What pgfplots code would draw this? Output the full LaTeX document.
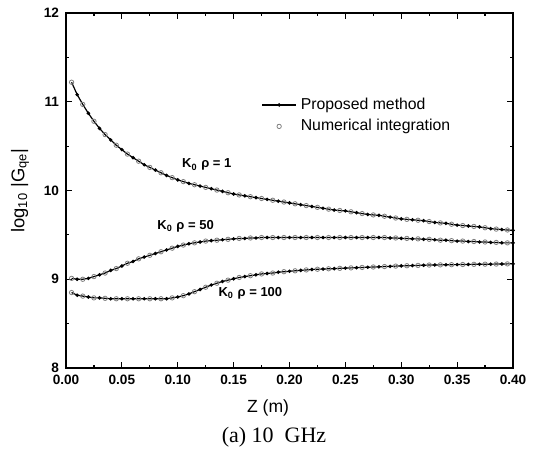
\documentclass[border=0pt]{standalone}
\usepackage{fontspec}
\setmainfont{Liberation Sans}
\newfontfamily\capfont{Liberation Serif}
\usepackage{pgfplots}
\usepackage{pgfplotstable}
\pgfplotsset{compat=1.18}
\pgfplotstableread{
z a b c
0.005 11.22 9.01 8.85
0.010 11.08 9.00 8.82
0.015 10.97 9.00 8.81
0.020 10.87 9.01 8.80
0.025 10.78 9.03 8.79
0.030 10.70 9.05 8.79
0.035 10.63 9.07 8.785
0.040 10.57 9.10 8.78
0.045 10.51 9.12 8.78
0.050 10.46 9.15 8.78
0.055 10.41 9.18 8.78
0.060 10.37 9.20 8.78
0.065 10.33 9.23 8.78
0.070 10.29 9.25 8.78
0.075 10.26 9.27 8.78
0.080 10.23 9.29 8.78
0.085 10.20 9.31 8.78
0.090 10.17 9.33 8.78
0.095 10.145 9.35 8.79
0.100 10.12 9.37 8.80
0.105 10.10 9.385 8.815
0.110 10.08 9.40 8.835
0.115 10.065 9.41 8.86
0.120 10.05 9.42 8.885
0.125 10.035 9.43 8.91
0.130 10.02 9.435 8.935
0.135 10.005 9.44 8.955
0.140 9.99 9.445 8.975
0.145 9.975 9.45 8.99
0.150 9.96 9.455 9.005
0.155 9.95 9.46 9.02
0.160 9.94 9.46 9.03
0.165 9.93 9.465 9.04
0.170 9.92 9.465 9.05
0.175 9.91 9.47 9.06
0.180 9.90 9.47 9.065
0.185 9.89 9.47 9.07
0.190 9.88 9.47 9.08
0.195 9.87 9.47 9.085
0.200 9.86 9.47 9.09
0.205 9.85 9.47 9.095
0.210 9.84 9.47 9.10
0.215 9.83 9.47 9.105
0.220 9.82 9.47 9.11
0.225 9.81 9.47 9.113
0.230 9.80 9.47 9.115
0.235 9.79 9.47 9.118
0.240 9.78 9.47 9.12
0.245 9.775 9.47 9.123
0.250 9.77 9.47 9.125
0.255 9.76 9.47 9.128
0.260 9.75 9.47 9.13
0.265 9.74 9.47 9.133
0.270 9.73 9.47 9.135
0.275 9.725 9.47 9.138
0.280 9.72 9.47 9.14
0.285 9.71 9.47 9.143
0.290 9.70 9.465 9.145
0.295 9.69 9.465 9.148
0.300 9.68 9.46 9.15
0.305 9.675 9.46 9.152
0.310 9.67 9.455 9.154
0.315 9.665 9.455 9.156
0.320 9.66 9.45 9.158
0.325 9.65 9.45 9.16
0.330 9.64 9.445 9.161
0.335 9.635 9.44 9.162
0.340 9.63 9.44 9.163
0.345 9.62 9.435 9.164
0.350 9.61 9.43 9.165
0.355 9.605 9.43 9.166
0.360 9.60 9.425 9.167
0.365 9.595 9.425 9.168
0.370 9.59 9.42 9.169
0.375 9.58 9.42 9.17
0.380 9.57 9.415 9.17
0.385 9.565 9.415 9.171
0.390 9.56 9.41 9.172
0.395 9.555 9.41 9.173
0.400 9.55 9.41 9.174
}\data
\begin{document}
\begin{tikzpicture}
\path[use as bounding box] (0,0) rectangle (269.5pt,229pt);
\begin{axis}[
  at={(33pt,45pt)}, anchor=south west,
  scale only axis, width=223.5pt, height=177.5pt,
  xmin=0, xmax=0.4, ymin=8, ymax=12,
  xtick={0,0.05,0.1,0.15,0.2,0.25,0.3,0.35,0.4},
  ytick={8,9,10,11,12},
  minor x tick num=1, minor y tick num=1,
  tick align=inside, major tick length=3pt, minor tick length=1.6pt,
  axis line style={line width=0.9pt},
  every tick/.style={line width=0.6pt, black},
  /pgf/number format/assume math mode=true,
  xticklabel style={/pgf/number format/.cd, fixed, fixed zerofill, precision=2},
  ticklabel style={font=\fontsize{6.8}{8}\selectfont\bfseries},
  xlabel={Z (m)},
  xlabel style={at={(axis description cs:0.452,-0.113)}, anchor=center, font=\fontsize{8.8}{10}\selectfont},
  ylabel={log\textsubscript{10} |G\textsubscript{qe}|},
  ylabel style={at={(axis description cs:-0.103,0.5)}, anchor=center, font=\fontsize{9.2}{10}\selectfont},
  legend style={at={(axis description cs:0.423,0.785)}, anchor=north west, draw=none, fill=none,
    font=\fontsize{7.9}{9}\selectfont, row sep=-0.5pt},
  legend cell align=left,
]
\addplot[black, line width=0.6pt, mark=*, mark size=0.55pt, mark repeat=2, mark phase=2] table[x=z,y=a] {\data};
\addlegendentry{Proposed method}
\addplot[only marks, gray, mark=o, mark size=1.1pt, mark options={line width=0.4pt}, mark repeat=2, mark phase=1] table[x=z,y=a] {\data};
\addlegendentry{Numerical integration}
\addplot[forget plot, black, line width=0.6pt, mark=*, mark size=0.55pt, mark repeat=2, mark phase=2] table[x=z,y=b] {\data};
\addplot[forget plot, only marks, gray, mark=o, mark size=1.1pt, mark options={line width=0.4pt}, mark repeat=2, mark phase=1] table[x=z,y=b] {\data};
\addplot[forget plot, black, line width=0.6pt, mark=*, mark size=0.55pt, mark repeat=2, mark phase=2] table[x=z,y=c] {\data};
\addplot[forget plot, only marks, gray, mark=o, mark size=1.1pt, mark options={line width=0.4pt}, mark repeat=2, mark phase=1] table[x=z,y=c] {\data};
\node[font=\fontsize{6.5}{7}\selectfont\bfseries] at (axis cs:0.126,10.29) {K\textsubscript{0} ρ = 1};
\node[font=\fontsize{6.5}{7}\selectfont\bfseries] at (axis cs:0.107,9.60) {K\textsubscript{0} ρ = 50};
\node[font=\fontsize{6.5}{7}\selectfont\bfseries] at (axis cs:0.165,8.845) {K\textsubscript{0} ρ = 100};
\end{axis}
\node[font=\capfont\fontsize{11}{13}\selectfont] at (137pt,10.5pt) {(a)~10~~GHz};
\end{tikzpicture}
\end{document}
